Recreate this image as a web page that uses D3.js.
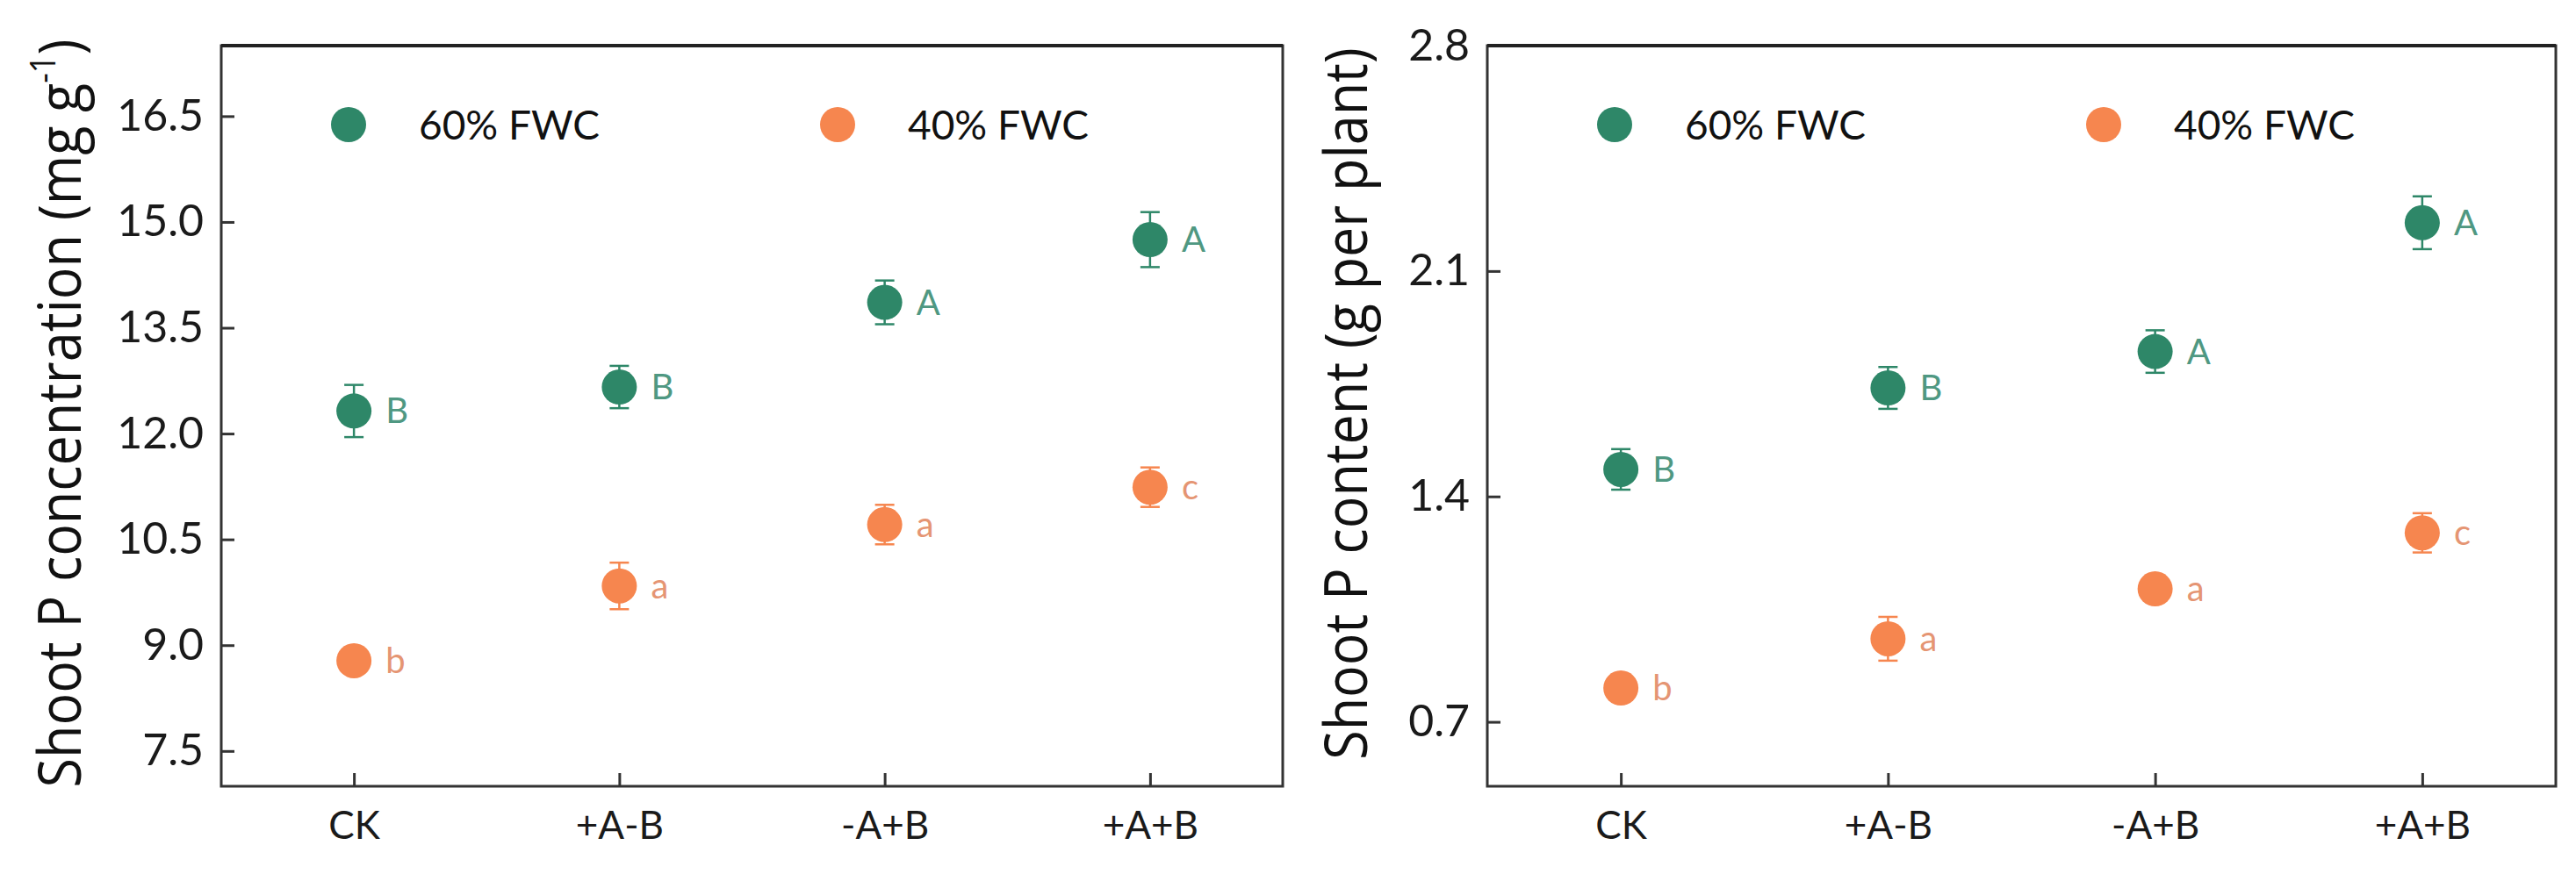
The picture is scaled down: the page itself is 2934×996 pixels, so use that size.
<!DOCTYPE html>
<html>
<head>
<meta charset="utf-8">
<script src="https://cdn.jsdelivr.net/npm/d3@7"></script>
<style>
  body { margin: 0; background: #fff; }
  svg { display: block; }
</style>
</head>
<body>
<div id="chart"></div>
<script>
// categories + values
const categories = ["CK", "+A-B", "-A+B", "+A+B"]
const seriesNames = ["60% FWC", "40% FWC"]

const concMean60 = [12.32, 12.66, 13.86, 14.75]
const concErr60 = [0.37, 0.30, 0.31, 0.39]
const concMean40 = [8.78, 9.84, 10.71, 11.24]
const concErr40 = [0.10, 0.33, 0.28, 0.28]
const concLetters60 = ["B", "B", "A", "A"]
const concLetters40 = ["b", "a", "a", "c"]
const concTicks = [7.5, 9.0, 10.5, 12.0, 13.5, 15.0, 16.5]

const contMean60 = [1.484, 1.737, 1.850, 2.250]
const contErr60 = [0.063, 0.065, 0.066, 0.082]
const contMean40 = [0.805, 0.958, 1.113, 1.287]
const contErr40 = [0.02, 0.068, 0.025, 0.061]
const contLetters60 = ["B", "B", "A", "A"]
const contLetters40 = ["b", "a", "a", "c"]
const contTicks = [0.7, 1.4, 2.1, 2.8]

const colors = ["#2e8768", "#f6864f"]
const letterColors = ["#4f9882", "#e59573"]

const W = 2934, H = 996
const svg = d3.select("#chart").append("svg")
  .attr("width", W)
  .attr("height", H)

const tickFont = "Lato, 'Open Sans', sans-serif"
const titleFont = "'Open Sans', 'Noto Sans', sans-serif"

function panel(opts) {
  const x0 = opts.x0, x1 = opts.x1, y0 = 52, y1 = 896
  const g = svg.append("g")

  const x = d3.scalePoint().domain(categories).range([x0, x1]).padding(0.5)
  const y = d3.scaleLinear().domain(opts.domain).range([y1, y0])

  // axes, ticks pointing inward
  const yAxis = g.append("g")
    .attr("transform", `translate(${x0},0)`)
    .call(d3.axisLeft(y).tickValues(opts.ticks).tickFormat(d3.format(".1f"))
      .tickSizeInner(-15).tickSizeOuter(0).tickPadding(20))
  const xAxis = g.append("g")
    .attr("transform", `translate(0,${y1})`)
    .call(d3.axisBottom(x).tickSizeInner(-15).tickSizeOuter(0).tickPadding(29))

  yAxis.select(".domain").remove()
  xAxis.select(".domain").remove()
  yAxis.selectAll("line").attr("stroke", "#333").attr("stroke-width", 3)
  xAxis.selectAll("line").attr("stroke", "#333").attr("stroke-width", 3)
  yAxis.selectAll("text").attr("font-family", tickFont).attr("font-size", 50).attr("fill", "#1a1a1a")
  xAxis.selectAll("text").attr("font-family", tickFont).attr("font-size", 44).attr("fill", "#1a1a1a")

  // frame
  g.append("rect")
    .attr("x", x0).attr("y", y0)
    .attr("width", x1 - x0).attr("height", y1 - y0)
    .attr("fill", "none").attr("stroke", "#333").attr("stroke-width", 3)
  g.append("line")
    .attr("x1", x0).attr("x2", x1).attr("y1", y0).attr("y2", y0)
    .attr("stroke", "#222").attr("stroke-width", 4)

  // y title
  const title = g.append("text")
    .attr("transform", `translate(${opts.titleX},${opts.titleY}) rotate(-90) scale(1,1.12)`)
    .attr("text-anchor", "middle")
    .attr("font-family", titleFont)
    .attr("font-size", 61)
    .attr("fill", "#111")
  title.append("tspan").text(opts.title)
  if (opts.sup) {
    title.append("tspan").attr("font-size", 36).attr("dy", -26).text(opts.sup)
    title.append("tspan").attr("dy", 26).text(opts.titleEnd)
  }

  // series
  opts.series.forEach((s, si) => {
    const pts = categories.map((c, i) => ({ c, m: s.mean[i], e: s.err[i], l: s.letters[i] }))
    const sg = g.append("g")
    const col = colors[si]

    sg.selectAll(".err").data(pts).enter().append("line")
      .attr("x1", d => x(d.c)).attr("x2", d => x(d.c))
      .attr("y1", d => y(d.m - d.e)).attr("y2", d => y(d.m + d.e))
      .attr("stroke", col).attr("stroke-width", 2.5)
    sg.selectAll(".capTop").data(pts).enter().append("line")
      .attr("x1", d => x(d.c) - 11).attr("x2", d => x(d.c) + 11)
      .attr("y1", d => y(d.m + d.e)).attr("y2", d => y(d.m + d.e))
      .attr("stroke", col).attr("stroke-width", 2.5)
    sg.selectAll(".capBot").data(pts).enter().append("line")
      .attr("x1", d => x(d.c) - 11).attr("x2", d => x(d.c) + 11)
      .attr("y1", d => y(d.m - d.e)).attr("y2", d => y(d.m - d.e))
      .attr("stroke", col).attr("stroke-width", 2.5)
    sg.selectAll("circle").data(pts).enter().append("circle")
      .attr("cx", d => x(d.c)).attr("cy", d => y(d.m)).attr("r", 20)
      .attr("fill", col)
    sg.selectAll(".lab").data(pts).enter().append("text")
      .attr("x", d => x(d.c) + 36).attr("y", d => y(d.m) + 14)
      .attr("font-family", tickFont).attr("font-size", 40)
      .attr("fill", letterColors[si])
      .text(d => d.l)
  })

  // legend
  seriesNames.forEach((name, i) => {
    const lx = x0 + (i === 0 ? 145 : 702)
    g.append("circle").attr("cx", lx).attr("cy", 142).attr("r", 20).attr("fill", colors[i])
    g.append("text").attr("x", lx + 80).attr("y", 159)
      .attr("font-family", tickFont).attr("font-size", 46).attr("fill", "#111")
      .text(name)
  })
}

panel({
  x0: 252, x1: 1461,
  domain: [7, 17.5], ticks: concTicks,
  title: "Shoot P concentration (mg g", sup: "-1", titleEnd: ")",
  titleX: 92, titleY: 471,
  series: [
    { mean: concMean60, err: concErr60, letters: concLetters60 },
    { mean: concMean40, err: concErr40, letters: concLetters40 },
  ],
})

panel({
  x0: 1694, x1: 2911,
  domain: [0.5, 2.8], ticks: contTicks,
  title: "Shoot P content (g per plant)",
  titleX: 1557, titleY: 460,
  series: [
    { mean: contMean60, err: contErr60, letters: contLetters60 },
    { mean: contMean40, err: contErr40, letters: contLetters40 },
  ],
})
</script>
</body>
</html>
